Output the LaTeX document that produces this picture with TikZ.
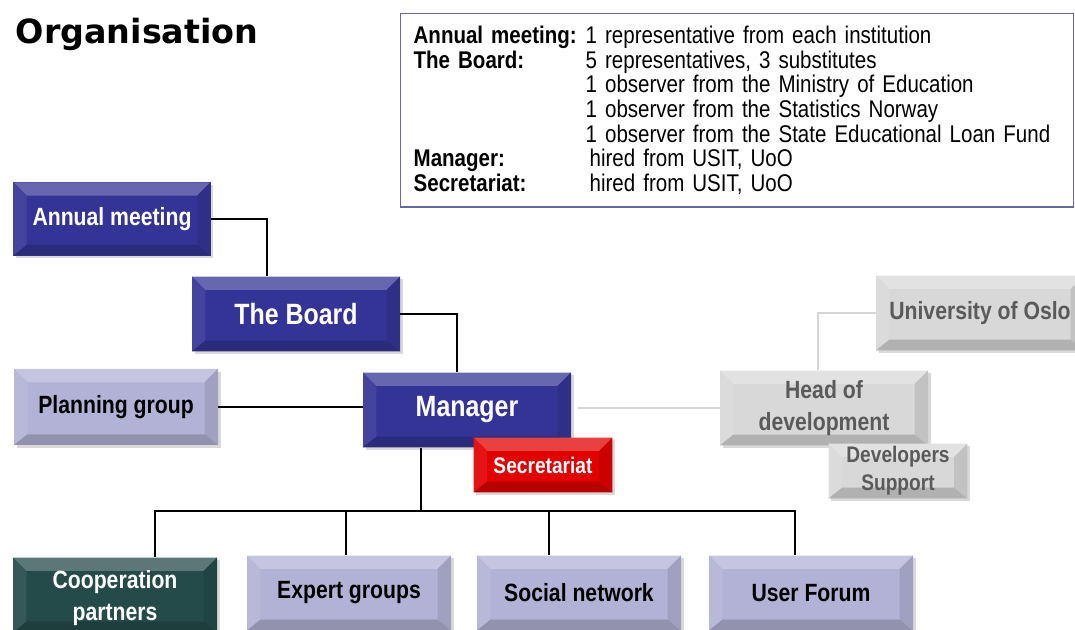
\documentclass[tikz,border=0pt]{standalone}
\usepackage{fontspec}
\setmainfont{Liberation Sans}[FakeStretch=0.85]
\newfontfamily\titlefont{DejaVu Sans}
\usepackage{tikz}
\usetikzlibrary{calc,shadows}
\definecolor{boardblue}{RGB}{ 52, 52,150}
\definecolor{lilac}    {RGB}{178,178,214}
\definecolor{silver}   {RGB}{216,216,216}
\definecolor{pine}     {RGB}{ 36, 74, 74}
\definecolor{alarm}    {RGB}{226,  0,  0}
\definecolor{frame}    {RGB}{102,102,170}
\definecolor{greytext} {RGB}{ 90, 90, 90}
\definecolor{greyline} {RGB}{214,214,214}
\newcommand\boxfont{\fontsize{18.7}{24}\selectfont\bfseries}
\newcommand\infoline[2]{\makebox[129pt][l]{\bfseries #1}#2}
\tikzset{
  bevel/.style={
    fill=#1,
    drop shadow={shadow xshift=2pt,shadow yshift=-2pt,opacity=.3},
    path picture={
      \path (path picture bounding box.north west) coordinate (pnw)
            (path picture bounding box.north east) coordinate (pne)
            (path picture bounding box.south east) coordinate (pse)
            (path picture bounding box.south west) coordinate (psw);
      \fill[#1!75!white] (pnw) -- (pne) -- ($(pne)+(-10pt,-10pt)$) -- ($(pnw)+(10pt,-10pt)$) -- cycle;
      \fill[#1!92!white] (pnw) -- ($(pnw)+(10pt,-10pt)$) -- ($(psw)+(10pt,8pt)$) -- (psw) -- cycle;
      \fill[#1!90!black] (pne) -- ($(pne)+(-10pt,-10pt)$) -- ($(pse)+(-10pt,8pt)$) -- (pse) -- cycle;
      \fill[#1!82!black] (psw) -- ($(psw)+(10pt,8pt)$) -- ($(pse)+(-10pt,8pt)$) -- (pse) -- cycle;
    },
  },
}

\begin{document}
\begin{tikzpicture}[
  x=0.75pt, y=-0.75pt,
  font=\boxfont,
  box/.style={inner sep=0pt,align=center,minimum width=156pt,minimum height=56pt},
  darkbox/.style={box,bevel=boardblue,text=white},
  lightbox/.style={box,bevel=lilac,text=black},
  greybox/.style={box,bevel=silver,text=greytext},
  pinebox/.style={box,bevel=pine,text=white},
  alarmbox/.style={box,bevel=alarm,text=white},
  bigtext/.style={font=\fontsize{22}{26}\selectfont\bfseries},
  smallbox/.style={minimum width=104pt,minimum height=41pt,font=\fontsize{16.9}{21}\selectfont\bfseries},
  infobox/.style={draw=frame,line width=1pt,anchor=north west,inner xsep=9.75pt,text width=485pt,
    minimum height=145pt,align=left,font=\fontsize{18.1}{18.5}\selectfont},
  link/.style={line width=1.5pt},
  faint/.style={line width=1.5pt,greyline},
]
  \useasboundingbox (0,0) rectangle (1075,630);

  % Title and the box of facts
  \node[anchor=base west,font=\titlefont\bfseries\fontsize{25}{30}\selectfont] (title) at (11,44) {Organisation};
  \node[infobox] (info) at (400,13) {%
    \infoline{Annual meeting:}{1 representative from each institution}\\
    \infoline{The Board:}{5 representatives, 3 substitutes}\\
    \infoline{}{1 observer from the Ministry of Education}\\
    \infoline{}{1 observer from the Statistics Norway}\\
    \infoline{}{1 observer from the State Educational Loan Fund}\\
    \infoline{Manager:}{\hspace{3pt}hired from USIT, UoO}\\
    \infoline{Secretariat:}{\hspace{3pt}hired from USIT, UoO}};

  % Grey side branch
  \node[greybox] (uio) at (980,313) {University of Oslo};
  \node[greybox] (headdev) at (824,408) {Head of\\development};
  \node[greybox,smallbox] (devsupport) at (898,471) {Developers\\Support};
  \draw[faint] ($(headdev.north)+(-6,0)$) |- (uio.west);

  % Main line
  \node[darkbox,minimum width=148pt,minimum height=55pt] (annual) at (112,219) {Annual meeting};
  \node[darkbox,bigtext] (board) at (296,314) {The Board};
  \node[lightbox,minimum width=153pt,minimum height=57pt] (planning) at (116,407) {Planning group};
  \draw[faint] (headdev.west -| 578,0) -- (headdev.west);
  \node[darkbox,bigtext] (manager) at (467,410) {Manager};
  \node[alarmbox,smallbox] (secretariat) at (543,465) {Secretariat};

  \draw[link] (annual.east) -| ($(board.north)+(-29,0)$);
  \draw[link] (board.east) -| ($(manager.north)+(-10,0)$);
  \draw[link] (planning.east) -- (planning.east -| manager.west);

  % Groups under the manager
  \node[pinebox,minimum width=153pt] (coop) at (115,595) {\\[-6pt]Cooperation\\partners};
  \node[lightbox,minimum width=153pt] (expert) at (349,593) {Expert groups};
  \node[lightbox,minimum width=153pt] (social) at (579,593) {Social network};
  \node[lightbox,minimum width=153pt] (userforum) at (811,593) {User Forum};

  \coordinate (bus) at ($(manager.south)+(-46,63)$);
  \coordinate (expertdrop) at ($(expert.north)+(-3,0)$);
  \coordinate (socialdrop) at ($(social.north)+(-30,0)$);
  \draw[link] (bus |- manager.south) -- (bus);
  \draw[link] ($(coop.north)+(40,0)$) |- (bus) -| ($(userforum.north)+(-16,0)$);
  \draw[link] (expertdrop |- bus) -- (expertdrop);
  \draw[link] (socialdrop |- bus) -- (socialdrop);

\end{tikzpicture}
\end{document}
